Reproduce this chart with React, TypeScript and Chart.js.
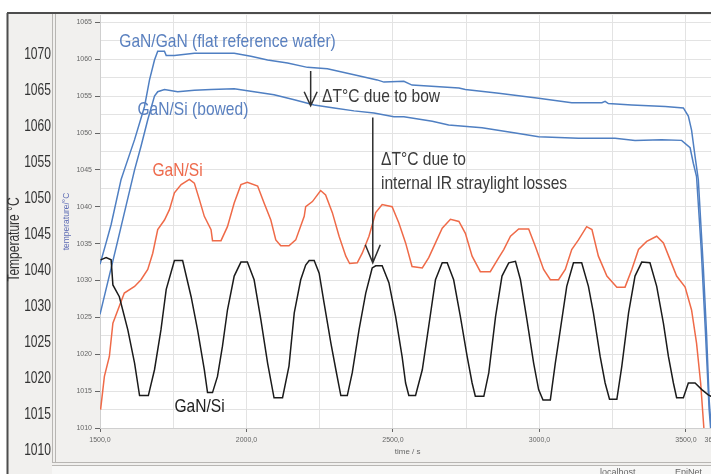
import React, { useEffect, useRef } from 'react';
import { Chart, registerables } from 'chart.js';

Chart.register(...registerables);

// ---------------- data ----------------
const X_LABEL_TICKS = [1500, 2000, 2500, 3000, 3500, 3600];
const X_GRID_TICKS = [1500, 1750, 2000, 2250, 2500, 2750, 3000, 3250, 3500, 3600];
const Y_LABEL_TICKS = [1010, 1015, 1020, 1025, 1030, 1035, 1040, 1045, 1050, 1055, 1060, 1065];
const Y_GRID_TICKS = [1010, 1012.5, 1015, 1017.5, 1020, 1022.5, 1025, 1027.5, 1030, 1032.5, 1035, 1037.5, 1040, 1042.5, 1045, 1047.5, 1050, 1052.5, 1055, 1057.5, 1060, 1062.5, 1065];
const OUTER_Y_LABELS = ['1070', '1065', '1060', '1055', '1050', '1045', '1040', '1030', '1025', '1020', '1015', '1010'];

const GAN_GAN_T = [1500, 1520, 1538, 1572, 1583, 1618, 1652, 1669, 1686, 1697, 1720, 1726, 1754, 1822, 1879, 1958, 2015, 2072, 2140, 2208, 2276, 2367, 2446, 2469, 2537, 2565, 2725, 2747, 2861, 2997, 3110, 3213, 3224, 3235, 3315, 3429, 3491, 3508, 3519, 3531, 3542, 3559, 3570, 3579, 3590];
const GAN_GAN_V = [1032.2, 1035.0, 1037.6, 1043.7, 1045.0, 1049.1, 1053.6, 1057.2, 1059.9, 1061.1, 1061.1, 1060.5, 1060.5, 1060.8, 1060.8, 1060.8, 1060.4, 1059.9, 1059.5, 1058.9, 1058.7, 1057.9, 1057.2, 1056.9, 1057.0, 1056.5, 1056.1, 1055.9, 1055.4, 1054.7, 1054.1, 1054.1, 1054.3, 1054.0, 1053.8, 1053.6, 1053.4, 1052.3, 1050.4, 1046.8, 1043.7, 1031.9, 1022.9, 1013.8, 1008.0];

const BOWED_T = [1500, 1560, 1618, 1640, 1663, 1686, 1697, 1720, 1765, 1822, 1879, 1958, 2026, 2094, 2163, 2231, 2299, 2367, 2435, 2503, 2537, 2634, 2690, 2804, 2918, 2997, 3133, 3258, 3326, 3417, 3485, 3514, 3525, 3536, 3552, 3566, 3579, 3590];
const BOWED_V = [1025.4, 1035.3, 1045.0, 1048.2, 1051.8, 1055.0, 1055.6, 1055.9, 1055.6, 1055.8, 1055.9, 1056.0, 1055.6, 1055.2, 1054.5, 1053.8, 1053.4, 1053.0, 1052.7, 1052.2, 1052.2, 1051.6, 1051.1, 1050.7, 1050.0, 1049.5, 1049.3, 1049.3, 1049.0, 1049.1, 1049.0, 1048.0, 1045.9, 1044.1, 1034.2, 1023.3, 1012.5, 1007.0];

const ORANGE_T = [1502, 1515, 1532, 1544, 1561, 1583, 1618, 1640, 1663, 1680, 1697, 1720, 1737, 1754, 1777, 1805, 1822, 1839, 1856, 1879, 1884, 1913, 1935, 1958, 1981, 2003, 2038, 2060, 2083, 2100, 2117, 2145, 2168, 2197, 2202, 2225, 2253, 2270, 2293, 2316, 2339, 2352, 2378, 2395, 2418, 2441, 2463, 2497, 2520, 2543, 2565, 2600, 2622, 2645, 2668, 2696, 2725, 2747, 2770, 2798, 2832, 2861, 2878, 2901, 2929, 2963, 2986, 3014, 3037, 3065, 3088, 3110, 3133, 3161, 3179, 3201, 3230, 3264, 3292, 3315, 3338, 3366, 3400, 3423, 3446, 3468, 3497, 3519, 3536, 3550, 3561, 3570];
const ORANGE_V = [1012.5, 1017.0, 1019.7, 1024.2, 1026.0, 1028.3, 1029.2, 1030.1, 1031.5, 1033.7, 1036.9, 1038.2, 1039.6, 1041.9, 1043.0, 1043.7, 1043.2, 1041.0, 1038.7, 1036.9, 1035.4, 1035.4, 1037.3, 1040.5, 1043.0, 1043.3, 1042.8, 1040.5, 1038.2, 1035.5, 1034.7, 1034.7, 1035.5, 1038.7, 1040.0, 1040.7, 1042.2, 1041.6, 1039.2, 1036.0, 1033.3, 1032.3, 1032.4, 1033.7, 1036.0, 1039.2, 1040.3, 1040.0, 1037.8, 1035.1, 1031.9, 1031.7, 1033.1, 1035.1, 1037.1, 1038.3, 1038.0, 1036.4, 1033.3, 1031.2, 1031.2, 1033.1, 1034.2, 1036.0, 1037.0, 1037.0, 1034.6, 1031.5, 1030.1, 1030.1, 1031.5, 1034.2, 1035.5, 1037.3, 1036.9, 1033.3, 1030.6, 1029.1, 1029.1, 1031.5, 1034.2, 1035.3, 1036.0, 1035.1, 1032.8, 1030.6, 1029.1, 1026.0, 1021.5, 1016.1, 1010.0, 1004.0];

const BLACK_T = [1502, 1521, 1538, 1544, 1566, 1595, 1618, 1635, 1665, 1686, 1708, 1726, 1754, 1782, 1811, 1833, 1856, 1867, 1884, 1901, 1918, 1935, 1958, 1981, 2003, 2026, 2049, 2072, 2094, 2123, 2145, 2163, 2185, 2202, 2214, 2231, 2248, 2265, 2288, 2305, 2322, 2344, 2361, 2384, 2407, 2429, 2441, 2463, 2486, 2509, 2531, 2543, 2554, 2577, 2600, 2622, 2645, 2668, 2685, 2707, 2730, 2753, 2770, 2781, 2810, 2827, 2850, 2872, 2895, 2918, 2935, 2957, 2980, 2997, 3012, 3037, 3054, 3071, 3093, 3116, 3144, 3167, 3184, 3207, 3224, 3239, 3264, 3281, 3304, 3326, 3349, 3377, 3400, 3423, 3440, 3457, 3468, 3491, 3508, 3531, 3554, 3576, 3600];
const BLACK_V = [1032.8, 1033.1, 1032.8, 1029.4, 1027.8, 1023.3, 1018.8, 1014.4, 1014.4, 1017.9, 1023.3, 1028.8, 1032.7, 1032.7, 1027.8, 1023.3, 1017.9, 1014.8, 1014.8, 1017.0, 1021.1, 1026.0, 1030.6, 1032.5, 1032.5, 1030.1, 1024.7, 1018.8, 1014.1, 1014.1, 1018.4, 1025.6, 1030.1, 1032.1, 1032.7, 1032.7, 1031.0, 1026.9, 1021.5, 1017.9, 1014.4, 1014.4, 1017.5, 1023.3, 1028.3, 1031.7, 1032.0, 1032.0, 1029.7, 1025.1, 1019.7, 1016.1, 1014.4, 1014.4, 1017.9, 1023.8, 1030.1, 1032.4, 1032.4, 1030.1, 1025.1, 1019.7, 1016.1, 1014.3, 1014.3, 1017.5, 1025.1, 1030.6, 1032.4, 1032.6, 1030.1, 1024.7, 1018.8, 1015.2, 1013.8, 1013.8, 1018.8, 1023.3, 1029.2, 1032.4, 1032.4, 1029.2, 1025.6, 1019.7, 1016.1, 1013.9, 1013.9, 1018.4, 1025.6, 1030.6, 1032.5, 1032.4, 1029.2, 1024.2, 1019.7, 1016.1, 1014.1, 1014.1, 1016.1, 1016.1, 1015.2, 1014.5, 1014.0];

// annotations (data coordinates)
const LABELS = [
  { text: 'GaN/GaN (flat reference wafer)', t: 1566, v: 1061.7, color: '#5a80bf' },
  { text: 'GaN/Si (bowed)', t: 1628, v: 1052.5, color: '#5a80bf' },
  { text: 'GaN/Si', t: 1679, v: 1044.2, color: '#ee6a4c' },
  { text: 'ΔT°C due to bow', t: 2258, v: 1054.2, color: '#3a3a3a' },
  { text: 'ΔT°C due to', t: 2459, v: 1045.6, color: '#3a3a3a' },
  { text: 'internal IR straylight losses', t: 2459, v: 1042.4, color: '#3a3a3a' },
  { text: 'GaN/Si', t: 1754, v: 1012.2, color: '#222222' },
];
const ARROWS = [
  { t: 2219, from: 1058.4, to: 1053.7, head: 14, half: 6.5 },
  { t: 2431, from: 1052.1, to: 1032.4, head: 18, half: 7.5 },
];

// ---------------- styles ----------------
const BIG = "'Liberation Sans', Arial, sans-serif";
const SMALL = "'Liberation Sans', Arial, sans-serif";
const BLUE = '#4f7fc2';
const ORANGE = '#ef6a48';
const BLACK = '#1b1b1b';

const pts = (t: number[], v: number[]) => t.map((x, i) => ({ x, y: v[i] }));

// draws horizontally condensed text (the source uses a narrow typeface)
const narrowText = (ctx: any, text: string, x: number, y: number, sx: number) => {
  ctx.save();
  ctx.translate(x, y);
  ctx.scale(sx, 1);
  ctx.fillText(text, 0, 0);
  ctx.restore();
};

const framePlugin = {
  id: 'frame',
  beforeDraw(chart: any) {
    const { ctx, width, height, chartArea: a } = chart;
    const line = (x1: number, y1: number, x2: number, y2: number) => {
      ctx.beginPath(); ctx.moveTo(x1, y1); ctx.lineTo(x2, y2); ctx.stroke();
    };
    ctx.save();
    ctx.fillStyle = '#ffffff';
    ctx.fillRect(0, 0, width, height);
    ctx.fillStyle = '#f1f0ee';
    ctx.fillRect(8, 13, width - 8, height - 13);
    ctx.fillStyle = '#ffffff';
    ctx.fillRect(a.left, a.top, a.right - a.left, a.bottom - a.top);
    ctx.fillStyle = '#f7f7f6';
    ctx.fillRect(52, 466, width - 52, height - 466);
    ctx.strokeStyle = '#4d4d4d';
    ctx.lineWidth = 2;
    line(7, 13, width, 13);
    line(7.5, 13, 7.5, height);
    ctx.strokeStyle = '#b8b6b3';
    ctx.lineWidth = 1;
    line(52.5, 14, 52.5, 463);
    line(55.5, 14, 55.5, 463);
    line(52, 462.5, width, 462.5);
    line(52, 465.5, width, 465.5);
    ctx.restore();
  },
  afterDraw(chart: any) {
    const { ctx } = chart;
    const outer = chart.scales.yOuter;
    // outer (pasted) temperature scale labels, placed through the yOuter scale
    ctx.save();
    ctx.font = `17px ${BIG}`;
    ctx.fillStyle = '#333333';
    ctx.textAlign = 'right';
    ctx.textBaseline = 'middle';
    OUTER_Y_LABELS.forEach((lab, i) => {
      narrowText(ctx, lab, outer.right - 5, outer.getPixelForValue(i), 0.71);
    });
    ctx.restore();
    // outer axis title
    ctx.save();
    ctx.translate(15, 239.5);
    ctx.rotate(-Math.PI / 2);
    ctx.font = `16px ${BIG}`;
    ctx.fillStyle = '#333333';
    ctx.textAlign = 'center';
    ctx.textBaseline = 'middle';
    narrowText(ctx, 'Temperature °C', 0, 0, 0.75);
    ctx.restore();
    ctx.save();
    ctx.font = `9px ${SMALL}`;
    ctx.fillStyle = '#666666';
    ctx.textBaseline = 'top';
    ctx.fillText('localhost', 600, 468);
    ctx.fillText('EpiNet', 675, 468);
    ctx.restore();
  },
};

const annotationPlugin = {
  id: 'annotations',
  afterDatasetsDraw(chart: any) {
    const { ctx } = chart;
    const xs = chart.scales.x;
    const ys = chart.scales.y;
    ctx.save();
    ctx.font = `19px ${BIG}`;
    ctx.textAlign = 'left';
    ctx.textBaseline = 'alphabetic';
    for (const l of LABELS) {
      ctx.fillStyle = l.color;
      narrowText(ctx, l.text, xs.getPixelForValue(l.t), ys.getPixelForValue(l.v), 0.82);
    }
    ctx.strokeStyle = '#2f2f2f';
    ctx.lineWidth = 1.5;
    for (const ar of ARROWS) {
      const x = xs.getPixelForValue(ar.t);
      const y0 = ys.getPixelForValue(ar.from);
      const y1 = ys.getPixelForValue(ar.to);
      ctx.beginPath();
      ctx.moveTo(x, y0);
      ctx.lineTo(x, y1);
      ctx.moveTo(x - ar.half, y1 - ar.head);
      ctx.lineTo(x, y1);
      ctx.lineTo(x + ar.half, y1 - ar.head);
      ctx.stroke();
    }
    ctx.restore();
  },
};

export default function App() {
  const ref = useRef<HTMLCanvasElement>(null);
  useEffect(() => {
    document.body.style.margin = '0';
    document.body.style.overflow = 'hidden';
    const canvas = ref.current as HTMLCanvasElement;
    const chart = new Chart(canvas, {
      type: 'line',
      data: {
        datasets: [
          { label: 'GaN/Si', data: pts(BLACK_T, BLACK_V), borderColor: BLACK, xAxisID: 'x', yAxisID: 'y' },
          { label: 'GaN/Si (orange)', data: pts(ORANGE_T, ORANGE_V), borderColor: ORANGE, xAxisID: 'x', yAxisID: 'y' },
          { label: 'GaN/Si (bowed)', data: pts(BOWED_T, BOWED_V), borderColor: BLUE, xAxisID: 'x', yAxisID: 'y' },
          { label: 'GaN/GaN (flat reference wafer)', data: pts(GAN_GAN_T, GAN_GAN_V), borderColor: BLUE, xAxisID: 'x', yAxisID: 'y' },
        ],
      },
      options: {
        animation: false,
        responsive: false,
        devicePixelRatio: 1,
        layout: { padding: { top: 15, right: 13, left: 0, bottom: 0 } },
        plugins: { legend: { display: false }, tooltip: { enabled: false } },
        elements: { point: { radius: 0 }, line: { tension: 0, borderWidth: 1.5, fill: false } },
        scales: {
          x: {
            type: 'linear',
            min: 1500,
            max: 3600,
            afterBuildTicks: (s: any) => { s.ticks = X_GRID_TICKS.map((v) => ({ value: v })); },
            afterFit: (s: any) => { s.height = 46; },
            grid: {
              color: '#e3e3e3',
              tickLength: 4,
              tickColor: (c: any) => (c.tick && X_LABEL_TICKS.includes(c.tick.value) ? '#666666' : 'rgba(0,0,0,0)'),
            },
            border: { display: true, color: '#cfcfcf' },
            ticks: {
              autoSkip: false,
              maxRotation: 0,
              padding: 4,
              color: '#666666',
              font: { size: 7, family: SMALL },
              callback: (v: any) => (X_LABEL_TICKS.includes(v) ? Number(v).toFixed(1).replace('.', ',') : ''),
            },
            title: { display: true, text: 'time / s', color: '#666666', font: { size: 8, family: SMALL }, padding: { top: 0, bottom: 17 } },
          },
          y: {
            type: 'linear',
            position: 'left',
            weight: 0,
            min: 1010,
            max: 1066,
            afterBuildTicks: (s: any) => { s.ticks = Y_GRID_TICKS.map((v) => ({ value: v })); },
            afterFit: (s: any) => { s.width = 44; },
            grid: {
              color: '#e3e3e3',
              tickLength: 5,
              tickColor: (c: any) => (c.tick && Y_LABEL_TICKS.includes(c.tick.value) ? '#666666' : 'rgba(0,0,0,0)'),
            },
            border: { display: true, color: '#cfcfcf' },
            ticks: {
              autoSkip: false,
              padding: 3,
              color: '#666666',
              font: { size: 7, family: SMALL },
              callback: (v: any) => (Y_LABEL_TICKS.includes(v) ? String(v) : ''),
            },
            title: { display: true, text: 'temperature/°C', color: '#5f6db5', font: { size: 8.5, family: SMALL }, padding: { top: 6, bottom: 0 } },
          },
          yOuter: {
            type: 'linear',
            position: 'left',
            weight: 10,
            min: -1.097,
            max: 10.377,
            reverse: true,
            afterBuildTicks: (s: any) => { s.ticks = OUTER_Y_LABELS.map((_, i) => ({ value: i })); },
            afterFit: (s: any) => { s.width = 56; },
            grid: { display: false, drawTicks: false },
            border: { display: false },
            ticks: { display: false },
          },
        },
      } as any,
      plugins: [framePlugin, annotationPlugin],
    });
    return () => chart.destroy();
  }, []);
  return (
    <div style={{ position: 'fixed', left: 0, top: 0, width: 730, height: 474, overflow: 'hidden' }}>
      <canvas ref={ref} width={730} height={474} style={{ display: 'block', width: 730, height: 474 }} />
    </div>
  );
}
